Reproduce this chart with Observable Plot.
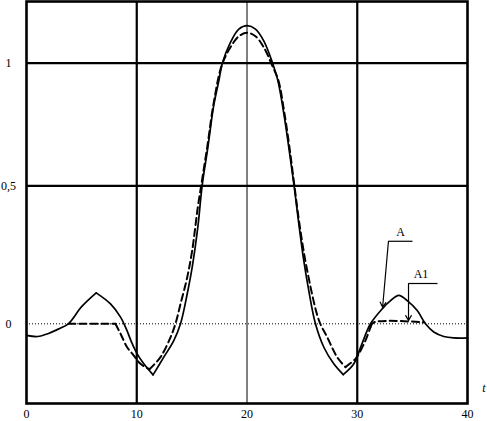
<!DOCTYPE html>
<html>
<head>
<meta charset="utf-8">
<script src="https://cdn.jsdelivr.net/npm/d3@7"></script>
<script src="https://cdn.jsdelivr.net/npm/@observablehq/plot@0.6"></script>
<style>
  html, body { margin: 0; padding: 0; background: #fff; }
  #chart svg { display: block; }
</style>
</head>
<body>
<div id="chart"></div>
<script>
// ---- data ----
const solidX = [0, 1, 2, 3, 3.8, 5, 6.32, 7.62, 8.53, 8.98, 9.59, 10.04, 10.64, 11.48,
  12.45, 13.36, 13.97, 14.58, 15.03, 15.54, 15.93, 16.45, 16.99, 17.45, 17.75, 18.5, 19.26,
  20.02, 20.77, 21.52, 22.29, 22.8, 23.34, 23.79, 24.27, 24.7, 25.15, 25.6, 26.21, 26.97,
  27.87, 28.73, 29.69, 30.4, 31.2, 32.26, 33.02, 33.77, 34.53, 35.44, 36.19, 36.94, 37.85,
  38.76, 40];
const solidY = [-0.042, -0.046, -0.035, -0.017, 0, 0.062, 0.112, 0.072, 0.024, -0.012, -0.072,
  -0.109, -0.145, -0.185, -0.121, -0.061, 0, 0.109, 0.205, 0.35, 0.5, 0.657, 0.83, 0.929,
  0.998, 1.085, 1.139, 1.153, 1.139, 1.091, 1.004, 0.929, 0.794, 0.657, 0.5, 0.362, 0.229,
  0.121, 0, -0.085, -0.145, -0.184, -0.145, -0.075, 0, 0.054, 0.084, 0.103, 0.084, 0.048, 0,
  -0.03, -0.046, -0.051, -0.051];
const solidCusps = [6.32, 11.48, 28.73];

const dashedX = [3.8, 8.07, 8.53, 9.13, 9.73, 10.34, 11.15, 12.15, 13.06, 13.51, 13.97, 14.58,
  15.03, 15.54, 15.84, 16.4, 16.95, 17.7, 18.5, 19.26, 20.02, 20.77, 21.52, 22.29, 22.85,
  23.4, 23.85, 24.3, 24.8, 25.46, 26.53, 27.27, 28.18, 28.93, 29.84, 30.14, 30.75, 31.2,
  31.5, 36.1];
const dashedY = [0, 0, -0.036, -0.085, -0.115, -0.145, -0.165, -0.121, -0.049, 0, 0.072, 0.169,
  0.266, 0.423, 0.5, 0.66, 0.83, 0.99, 1.065, 1.11, 1.124, 1.11, 1.065, 0.99, 0.929, 0.794,
  0.657, 0.5, 0.35, 0.193, 0.012, -0.048, -0.121, -0.157, -0.127, -0.109, -0.06, -0.012,
  0.005, 0.005];
const dashedCusps = [8.07, 11.15, 28.93, 31.2];

const xTicks = [0, 10, 20, 30, 40];
const xTickLabels = ["0", "10", "20", "30", "40"];
const yTicks = [0, 0.5, 1];
const yTickLabels = ["0", "0,5", "1"];
const thickX = [10, 30];
const thinX = [20];
const thickY = [0.5, 1];
const axisName = ["t"];

// annotations (label, label position, leader line)
const annLabels = ["A", "A1"];
const annLabelX = [33.92, 35.78];
const annLabelY = [0.331, 0.179];
const annBarX1 = [32.83, 34.65];
const annBarX2 = [35.01, 37.28];
const annBarY = [0.299, 0.146];
const annTipX = [32.3, 34.65];
const annTipY = [0.06, 0.012];

// ---- build tables: split each curve at its cusps so that the smooth curve keeps sharp corners ----
function segmented(xs, ys, cusps) {
  const rows = [];
  let seg = 0;
  xs.forEach((x, i) => {
    rows.push({x, y: ys[i], seg});
    if (cusps.includes(x)) { seg++; rows.push({x, y: ys[i], seg}); }
  });
  return rows;
}
const solid = segmented(solidX, solidY, solidCusps);
const dashed = segmented(dashedX, dashedY, dashedCusps);
const ann = annLabels.map((label, i) => ({
  label, lx: annLabelX[i], ly: annLabelY[i],
  bx1: annBarX1[i], bx2: annBarX2[i], by: annBarY[i],
  tx: annTipX[i], ty: annTipY[i]
}));
const labelMap = new Map(yTicks.map((t, i) => [t, yTickLabels[i]]));
const xLabelMap = new Map(xTicks.map((t, i) => [t, xTickLabels[i]]));

const font = "Liberation Serif, Times New Roman, serif";

const chart = Plot.plot({
  width: 487,
  height: 421,
  marginLeft: 26,
  marginRight: 20,
  marginTop: 1,
  marginBottom: 18,
  style: {fontFamily: font, fontSize: "12px", color: "#000", background: "#fff"},
  x: {domain: [0, 40], range: [26, 467]},
  y: {type: "linear", domain: [-0.289, 0, 0.5, 1, 1.25], range: [403, 323.3, 185.3, 62.7, 1.4]},
  marks: [
    Plot.ruleY([0], {stroke: "#000", strokeWidth: 1, strokeDasharray: "1,2"}),
    Plot.ruleY(thickY, {stroke: "#000", strokeWidth: 2.2}),
    Plot.ruleX(thickX, {stroke: "#000", strokeWidth: 2.2}),
    Plot.ruleX(thinX, {stroke: "#000", strokeWidth: 1}),
    Plot.line(dashed, {x: "x", y: "y", z: "seg", stroke: "#000", strokeWidth: 2, strokeDasharray: "7,4", curve: "catmull-rom"}),
    Plot.line(solid, {x: "x", y: "y", z: "seg", stroke: "#000", strokeWidth: 1.7, curve: "catmull-rom", strokeLinecap: "round"}),
    Plot.link(ann, {x1: "bx1", x2: "bx2", y1: "by", y2: "by", stroke: "#000", strokeWidth: 1.2}),
    Plot.arrow(ann, {x1: "bx1", y1: "by", x2: "tx", y2: "ty", stroke: "#000", strokeWidth: 1.2, headLength: 7, bend: 0}),
    Plot.text(ann, {x: "lx", y: "ly", text: "label", fontSize: 12, fill: "#000"}),
    Plot.frame({stroke: "#000", strokeWidth: 2.6}),
    Plot.axisX(xTicks, {tickSize: 0, tickPadding: 6, tickFormat: d => xLabelMap.get(d), fontSize: 12, label: null}),
    Plot.axisY(yTicks, {tickSize: 0, tickPadding: 18, textAnchor: "middle", tickFormat: d => labelMap.get(d), fontSize: 12, label: null}),
    Plot.text(axisName, {x: 41.5, y: -0.234, text: d => d, fontStyle: "italic", fontSize: 12, fill: "#000"})
  ]
});
document.getElementById("chart").appendChild(chart);
</script>
</body>
</html>
